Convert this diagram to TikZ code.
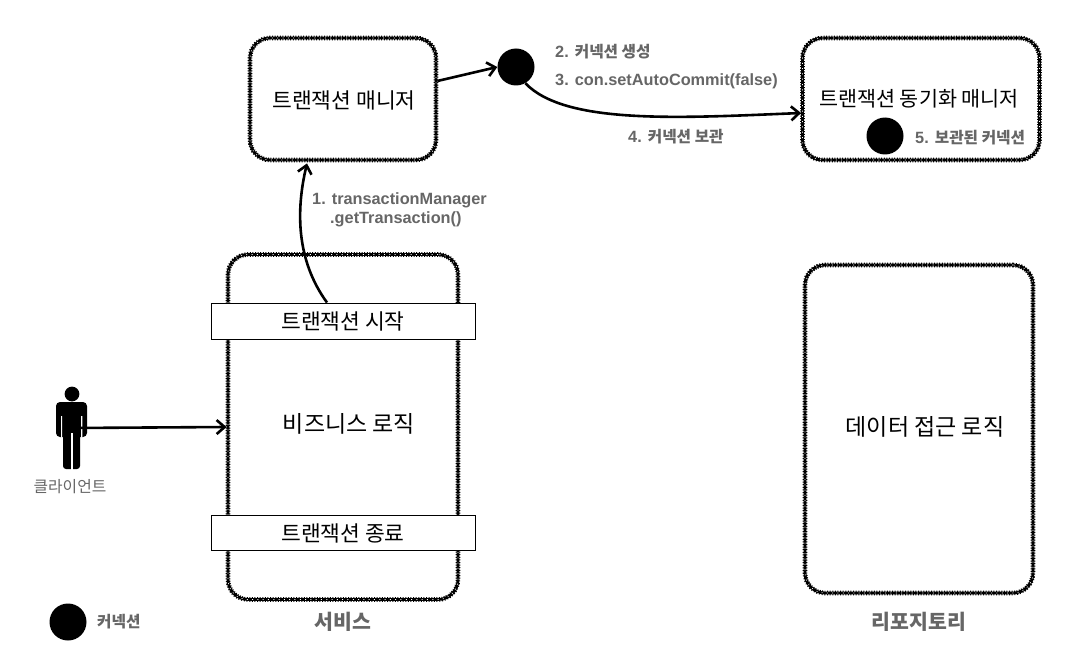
\documentclass[tikz,border=0pt]{standalone}
\usepackage{fontspec}
\setmainfont{Noto Sans CJK KR}
\newfontfamily\lat{Liberation Sans}
\newcommand{\latb}{\lat\fontsize{16.3}{18}\selectfont}
\usetikzlibrary{arrows.meta,calc}
\definecolor{lab}{HTML}{666666}
\tikzset{
  x=1pt,y=-1pt,
  roughbox/.style={draw=black,line width=2.8pt,rounded corners=20pt,
    preaction={draw=black,line width=4.6pt,dash pattern=on 1pt off 1.6pt},
    postaction={draw=white,line width=.7pt,dash pattern=on 1pt off 4.3pt},
    minimum width=#1,inner sep=0pt},
  barbox/.style={draw=black,fill=white,line width=.9pt,minimum width=264pt,inner sep=0pt,font=\fontsize{21.5}{24}\selectfont},
  dot/.style={circle,fill=black,minimum size=37pt,inner sep=0pt},
  conn/.style={line width=2.6pt,-{Straight Barb[length=8pt,width=14pt,line width=2.6pt]}},
  lbl/.style={text=lab,font=\fontsize{15.7}{18}\bfseries\selectfont,inner sep=0pt},
  big/.style={text=lab,font=\fontsize{20.5}{24}\bfseries\selectfont,inner sep=0pt},
  plain/.style={inner sep=0pt,font=\fontsize{21.5}{24}\selectfont},
}
\begin{document}
\begin{tikzpicture}
\useasboundingbox (0,0) rectangle (1066,658);
\fill[white] (0,0) rectangle (1066,658);
% boxes
\node[roughbox=186pt,minimum height=122pt] (mgr) at (343,99) {};
\node[plain] at (344,100) {트랜잭션 매니저};
\node[roughbox=237pt,minimum height=122pt] (sync) at (921,99) {};
\node[plain,font=\fontsize{20.7}{24}\selectfont] at (919,99) {트랜잭션 동기화 매니저};
\node[roughbox=230pt,minimum height=345pt] (svc) at (343,427) {};
\node[roughbox=228pt,minimum height=328pt] (repo) at (919,429) {};
\node[barbox,minimum height=36pt] (start) at (343,321) {트랜잭션 시작};
\node[barbox,minimum height=35pt] (end) at (343,533) {트랜잭션 종료};
\node[plain,font=\fontsize{23}{26}\selectfont] (biz) at (349,424) {비즈니스 로직};
\node[plain,font=\fontsize{23}{26}\selectfont] (data) at (925,427) {데이터 접근 로직};
% dots
\node[dot] (con) at (516,67) {};
\node[dot] (kept) at (885,136) {};
\node[dot] (legend) at (68,622) {};
% person
\coordinate (client) at (72,428);
\fill[black] (72,394) circle (7.4);
\fill[black,rounded corners=4pt] (56,402) rectangle (87,437);
\fill[black,rounded corners=3pt] (63,425) rectangle (80,469);
\fill[white] (61,416) rectangle (62.2,437.5) (81.2,416) rectangle (82.4,437.5);
\fill[white] (71.1,433) rectangle (72.6,470);
% connectors
\draw[conn] (client) -- (svc.west);
\draw[conn] ([xshift=-16pt]start.north) .. controls (296,260) and (296,210) .. ([xshift=-36pt,yshift=-2pt]mgr.south);
\draw[conn] ([yshift=18pt]mgr.east) -- (con.west);
\draw[conn] (con.-60) .. controls (565,125) and (680,118) .. ([yshift=-14pt]sync.west);
% labels
\node[lbl,anchor=west] at (312,200) {\latb 1. transactionManager};
\node[lbl,anchor=west] at (330,219) {\latb .getTransaction()};
\node[lbl,anchor=west] at (555,52) {{\latb 2. }커넥션 생성};
\node[lbl,anchor=west] at (555,81) {\latb 3. con.setAutoCommit(false)};
\node[lbl,anchor=west] at (628,137) {{\latb 4. }커넥션 보관};
\node[lbl,anchor=west] at (915,138) {{\latb 5. }보관된 커넥션};
\node[lbl,anchor=west] at (97,622) {커넥션};
\node[big] at (343,622) {서비스};
\node[big] at (919,622) {리포지토리};
\node[text=lab,inner sep=0pt,font=\fontsize{15.8}{18}\selectfont] at (70,487) {클라이언트};
\end{tikzpicture}
\end{document}
